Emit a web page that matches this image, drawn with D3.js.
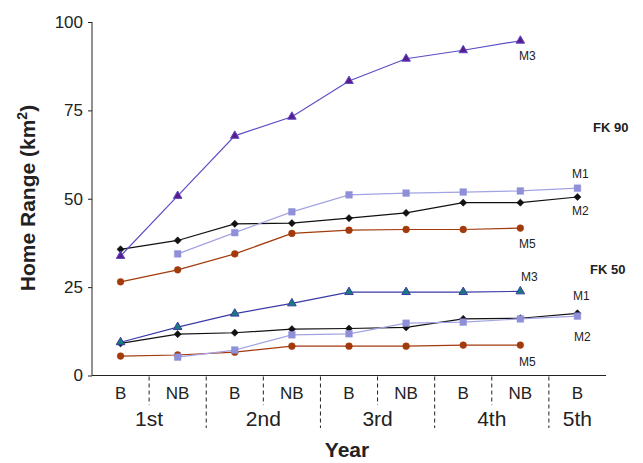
<!DOCTYPE html>
<html>
<head>
<meta charset="utf-8">
<script src="https://cdn.jsdelivr.net/npm/d3@7"></script>
<style>
  body { margin: 0; background: #fff; }
  text { font-family: "Liberation Sans", Arial, Helvetica, sans-serif; fill: #222; }
</style>
</head>
<body>
<svg id="chart" width="643" height="463"></svg>
<script>
// x categories: season within each year
const seasons = ['B', 'NB', 'B', 'NB', 'B', 'NB', 'B', 'NB', 'B'];
const years = ['1st', '2nd', '3rd', '4th', '5th'];
const yTicks = [0, 25, 50, 75, 100];

// FK 90 group
const fk90M3 = [33.8, 50.8, 67.8, 73.2, 83.3, 89.6, 92.0, 94.7, null];
const fk90M1 = [null, 34.4, 40.4, 46.3, 51.1, 51.6, 51.9, 52.2, 53.0];
const fk90M2 = [35.7, 38.2, 42.9, 43.1, 44.5, 46.0, 48.9, 48.9, 50.5];
const fk90M5 = [26.5, 29.9, 34.4, 40.2, 41.1, 41.3, 41.3, 41.7, null];

// FK 50 group
const fk50M3 = [9.4, 13.7, 17.5, 20.4, 23.6, 23.6, 23.6, 23.8, null];
const fk50M1 = [null, 5.2, 7.2, 11.5, 11.8, 14.8, 15.1, 16.0, 16.8];
const fk50M2 = [9.1, 11.7, 12.1, 13.1, 13.3, 13.6, 16.0, 16.2, 17.6];
const fk50M5 = [5.5, 5.8, 6.6, 8.3, 8.3, 8.3, 8.6, 8.6, null];

const svg = d3.select('#chart');

const x = d3.scaleBand().domain(d3.range(seasons.length)).range([92, 606]);
const y = d3.scaleLinear().domain([0, 100]).range([375.5, 22]);
const cx = i => x(i) + x.bandwidth() / 2;

// 系列样式 (diamond = square turned 45°)
const series = [
  { values: fk90M2, line: '#111', fill: '#111', stroke: '#111', shape: 'diamond', size: 26, label: 'M2', lx: 572, ly: 215 },
  { values: fk90M1, line: '#a3a3e3', fill: '#8f90d9', stroke: '#8f90d9', shape: 'square', size: 44, label: 'M1', lx: 572, ly: 178 },
  { values: fk90M5, line: '#a33a0c', fill: '#a33a0c', stroke: '#a33a0c', shape: 'circle', size: 36, label: 'M5', lx: 519, ly: 248 },
  { values: fk90M3, line: '#5a4ec6', fill: '#5d1a8a', stroke: '#5a4ec6', shape: 'triangle', size: 32, label: 'M3', lx: 519, ly: 60 },
  { values: fk50M5, line: '#a33a0c', fill: '#a33a0c', stroke: '#a33a0c', shape: 'circle', size: 36, label: 'M5', lx: 519, ly: 366 },
  { values: fk50M2, line: '#111', fill: '#111', stroke: '#111', shape: 'diamond', size: 26, label: 'M2', lx: 574, ly: 341 },
  { values: fk50M1, line: '#a3a3e3', fill: '#8f90d9', stroke: '#8f90d9', shape: 'square', size: 44, label: 'M1', lx: 573, ly: 300 },
  { values: fk50M3, line: '#3a3aa6', fill: '#167c7a', stroke: '#3a3aa6', shape: 'triangle', size: 32, label: 'M3', lx: 521, ly: 281 }
];

const shapes = {
  diamond: d3.symbolSquare,
  square: d3.symbolSquare,
  circle: d3.symbolCircle,
  triangle: d3.symbolTriangle
};

// y axis
const yAxis = svg.append('g').attr('transform', 'translate(92,0)')
  .call(d3.axisLeft(y).tickValues(yTicks).tickSize(4).tickPadding(5));
yAxis.select('.domain').attr('d', `M0,${y(100)}V${y(0)}`).attr('stroke', '#222');
yAxis.selectAll('.tick line').attr('stroke', '#222');
yAxis.selectAll('.tick text').style('font-size', '17px').attr('fill', '#222');

// x axis line
svg.append('line')
  .attr('x1', 92).attr('x2', 606)
  .attr('y1', y(0)).attr('y2', y(0))
  .attr('stroke', '#222').attr('stroke-width', 1);

// dashed separators between seasons and years
d3.range(1, seasons.length).forEach(k => {
  const xx = x(k);
  const yearEdge = k % 2 === 0;
  svg.append('line')
    .attr('x1', xx).attr('x2', xx)
    .attr('y1', y(0) + 1)
    .attr('y2', yearEdge ? 428 : 405)
    .attr('stroke', '#222')
    .attr('stroke-dasharray', '4,3');
});

// season labels
svg.append('g').selectAll('text')
  .data(seasons)
  .join('text')
  .attr('x', (d, i) => cx(i))
  .attr('y', 399)
  .attr('text-anchor', 'middle')
  .style('font-size', '17px')
  .text(d => d);

// year labels
svg.append('g').selectAll('text')
  .data(years)
  .join('text')
  .attr('x', (d, i) => i < 4 ? x(i * 2) + x.bandwidth() : cx(8))
  .attr('y', 426)
  .attr('text-anchor', 'middle')
  .style('font-size', '21px')
  .text(d => d);

// axis titles
svg.append('text')
  .attr('x', 347).attr('y', 457)
  .attr('text-anchor', 'middle')
  .style('font-size', '21px').style('font-weight', 'bold')
  .text('Year');

const yTitle = svg.append('text')
  .attr('transform', 'translate(35,198) rotate(-90)')
  .attr('text-anchor', 'middle')
  .style('font-size', '21px').style('font-weight', 'bold');
yTitle.append('tspan').text('Home Range (km');
yTitle.append('tspan').attr('dy', -8).style('font-size', '14px').text('2');
yTitle.append('tspan').attr('dy', 8).text(')');

// lines and markers
const line = d3.line()
  .defined(d => d.v !== null)
  .x(d => cx(d.i))
  .y(d => y(d.v));

series.forEach(s => {
  const pts = s.values.map((v, i) => ({ v, i }));
  svg.append('path')
    .datum(pts)
    .attr('fill', 'none')
    .attr('stroke', s.line)
    .attr('stroke-width', 1.2)
    .attr('d', line);

  svg.append('g').selectAll('path')
    .data(pts.filter(d => d.v !== null))
    .join('path')
    .attr('transform', d => `translate(${cx(d.i)},${y(d.v)})` + (s.shape === 'diamond' ? ' rotate(45)' : ''))
    .attr('d', d3.symbol().type(shapes[s.shape]).size(s.size))
    .attr('fill', s.fill)
    .attr('stroke', s.stroke)
    .attr('stroke-width', s.shape === 'triangle' ? 1 : 0.5);

  svg.append('text')
    .attr('x', s.lx).attr('y', s.ly)
    .style('font-size', '12px')
    .text(s.label);
});

// group labels
svg.append('text').attr('x', 593).attr('y', 132)
  .style('font-size', '13px').style('font-weight', 'bold').text('FK 90');
svg.append('text').attr('x', 590).attr('y', 274)
  .style('font-size', '13px').style('font-weight', 'bold').text('FK 50');
</script>
</body>
</html>
